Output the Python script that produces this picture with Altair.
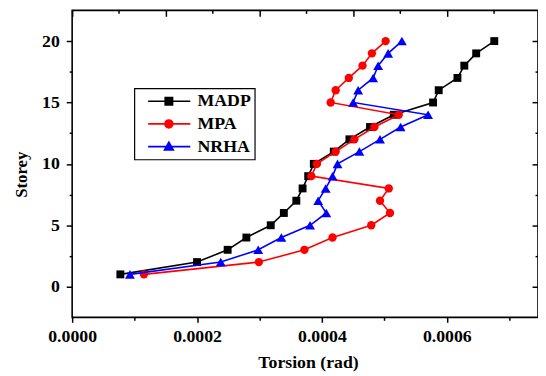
import altair as alt
import pandas as pd

# ---------------- data ----------------
storeys = list(range(1, 21))
madp = [0.0000772, 0.000200, 0.000249, 0.000279, 0.000318, 0.000339, 0.000359, 0.000369,
        0.000378, 0.000387, 0.000419, 0.000444, 0.000477, 0.000515, 0.000578, 0.000587,
        0.000617, 0.000628, 0.000647, 0.000676]
mpa = [0.000115, 0.000299, 0.000372, 0.000417, 0.000479, 0.000509, 0.000493, 0.000507,
       0.000383, 0.000392, 0.000422, 0.000452, 0.000484, 0.000523, 0.000414, 0.000422,
       0.000443, 0.000465, 0.000480, 0.000502]
nrha = [0.0000925, 0.000238, 0.000298, 0.000335, 0.000381, 0.000407, 0.000394, 0.000406,
        0.000417, 0.000425, 0.000460, 0.000493, 0.000526, 0.000570, 0.000450, 0.000458,
        0.000482, 0.000490, 0.000506, 0.000528]

series_names = ["MADP", "MPA", "NRHA"]
series_values = [madp, mpa, nrha]

x_major_bottom = [0, 0.0002, 0.0004, 0.0006]
x_minor_bottom = [0.0001, 0.0003, 0.0005, 0.0007]
x_major_top = [0, 0.00015, 0.0003, 0.00045, 0.0006]
x_minor_top = [0.000075, 0.000225, 0.000375, 0.000525, 0.000675]
y_major = [0, 5, 10, 15, 20]
y_minor = [2.5, 7.5, 12.5, 17.5]

# ---------------- styles ----------------
series_colors = ["#000000", "#ff0000", "#0000ff"]
marker_shapes = ["square", "circle", "triangle-up"]
marker_sizes = [64, 72, 100]
FONT = "Liberation Serif"

rows = []
for name, vals in zip(series_names, series_values):
    for s, v in zip(storeys, vals):
        rows.append({"series": name, "storey": s, "torsion": v})
df = pd.DataFrame(rows)

x_scale = alt.Scale(domain=[0, 0.000746], nice=False, zero=False)
y_scale = alt.Scale(domain=[-2.5, 22.5], nice=False, zero=False)

common = dict(domain=False, grid=False, tickColor="black", tickWidth=1.5,
              labelFlush=False)
lab_x = dict(labelFont=FONT, labelFontSize=18, labelFontWeight="bold", labelColor="black",
             titleFont=FONT, titleFontSize=18, titleFontWeight="bold", titleColor="black")
lab_y = dict(labelFont=FONT, labelFontSize=18, labelFontWeight="bold", labelColor="black",
             titleFont=FONT, titleFontSize=17, titleFontWeight="bold", titleColor="black")

axes_x = [
    alt.Axis(orient="bottom", values=x_major_bottom, format=".4f", tickSize=5,
             labelPadding=5, title="Torsion (rad)", titleX=239, titleY=46,
             titleBaseline="middle", titleAlign="center", **common, **lab_x),
    alt.Axis(orient="bottom", values=x_minor_bottom, tickSize=3, labels=False,
             title=None, **common),
    alt.Axis(orient="top", values=x_major_top, tickSize=6, offset=-6, labels=False,
             title=None, **common),
    alt.Axis(orient="top", values=x_minor_top, tickSize=3, offset=-3, labels=False,
             title=None, **common),
]
axes_y = [
    alt.Axis(orient="left", values=y_major, tickSize=6, labelPadding=7,
             title="Storey", titleAngle=270, titleX=-51, titleY=166,
             titleAlign="center", titleBaseline="middle", **common, **lab_y),
    alt.Axis(orient="left", values=y_minor, tickSize=3, labels=False, title=None, **common),
    alt.Axis(orient="right", values=y_major, tickSize=6, offset=-6, labels=False,
             title=None, **common),
    alt.Axis(orient="right", values=y_minor, tickSize=3, offset=-3, labels=False,
             title=None, **common),
]

layers = []
k = 0
for name, col, shp, sz in zip(series_names, series_colors, marker_shapes, marker_sizes):
    for kind in ("line", "point"):
        ax_x = axes_x[k] if k < 4 else None
        ax_y = axes_y[k] if k < 4 else None
        base = alt.Chart(df).transform_filter(alt.datum.series == name)
        if kind == "line":
            m = base.mark_line(color=col, strokeWidth=1.6)
        else:
            m = base.mark_point(shape=shp, size=sz, filled=True, color=col,
                                opacity=1, strokeWidth=1)
        enc = dict(
            x=alt.X("torsion:Q", scale=x_scale, axis=ax_x),
            y=alt.Y("storey:Q", scale=y_scale, axis=ax_y),
        )
        if kind == "line":
            enc["order"] = alt.Order("storey:Q")
        layers.append(m.encode(**enc))
        k += 1

# ---- legend: symbols drawn as line + marker (custom paths, units of 5px) ----
def sq(h):
    return f"M{-h},{-h}L{h},{-h}L{h},{h}L{-h},{h}Z"

def ci(c):
    return f"M{-c},0A{c},{c} 0 1,1 {c},0A{c},{c} 0 1,1 {-c},0Z"

def tri(kf):
    cy = 0.157
    return (f"M0,{cy - kf * 1.057:.3f}L{-0.9 * kf:.3f},{cy + kf * 0.523:.3f}"
            f"L{0.9 * kf:.3f},{cy + kf * 0.523:.3f}Z")

line_path = "M-4.2,0L4.34,0"
legend_paths = [
    line_path + sq(0.75) + sq(0.45) + sq(0.15),
    line_path + ci(0.8) + ci(0.5) + ci(0.2),
    line_path + tri(1.0) + tri(0.43) + tri(0.12),
]

legend = alt.Legend(title=None, orient="none", legendX=63, legendY=79,
                    labelFont=FONT, labelFontSize=18, labelFontWeight="bold",
                    labelColor="black", symbolSize=100, symbolStrokeWidth=1.6,
                    symbolOffset=22, labelOffset=20, padding=4, rowPadding=5,
                    strokeColor="black", fillColor="white", symbolOpacity=1)

legend_layer = alt.Chart(df).transform_filter("datum.storey < 0").mark_point(
    filled=False, opacity=1, strokeWidth=1.6
).encode(
    x=alt.X("torsion:Q", scale=x_scale, axis=None),
    y=alt.Y("storey:Q", scale=y_scale, axis=None),
    color=alt.Color("series:N", scale=alt.Scale(domain=series_names, range=series_colors),
                    legend=legend),
    shape=alt.Shape("series:N", scale=alt.Scale(domain=series_names, range=legend_paths),
                    legend=legend),
)
layers.append(legend_layer)

chart = alt.layer(*layers).resolve_axis(x="independent", y="independent").properties(
    width=472, height=311,
    autosize=alt.AutoSizeParams(type="none"),
    padding={"left": 65, "top": 0, "right": 0, "bottom": 57},
).configure_view(stroke="black", strokeWidth=1.6).configure_legend(strokeWidth=1.2)

chart.save("out.html", embed_options={"renderer": "svg", "actions": False})
